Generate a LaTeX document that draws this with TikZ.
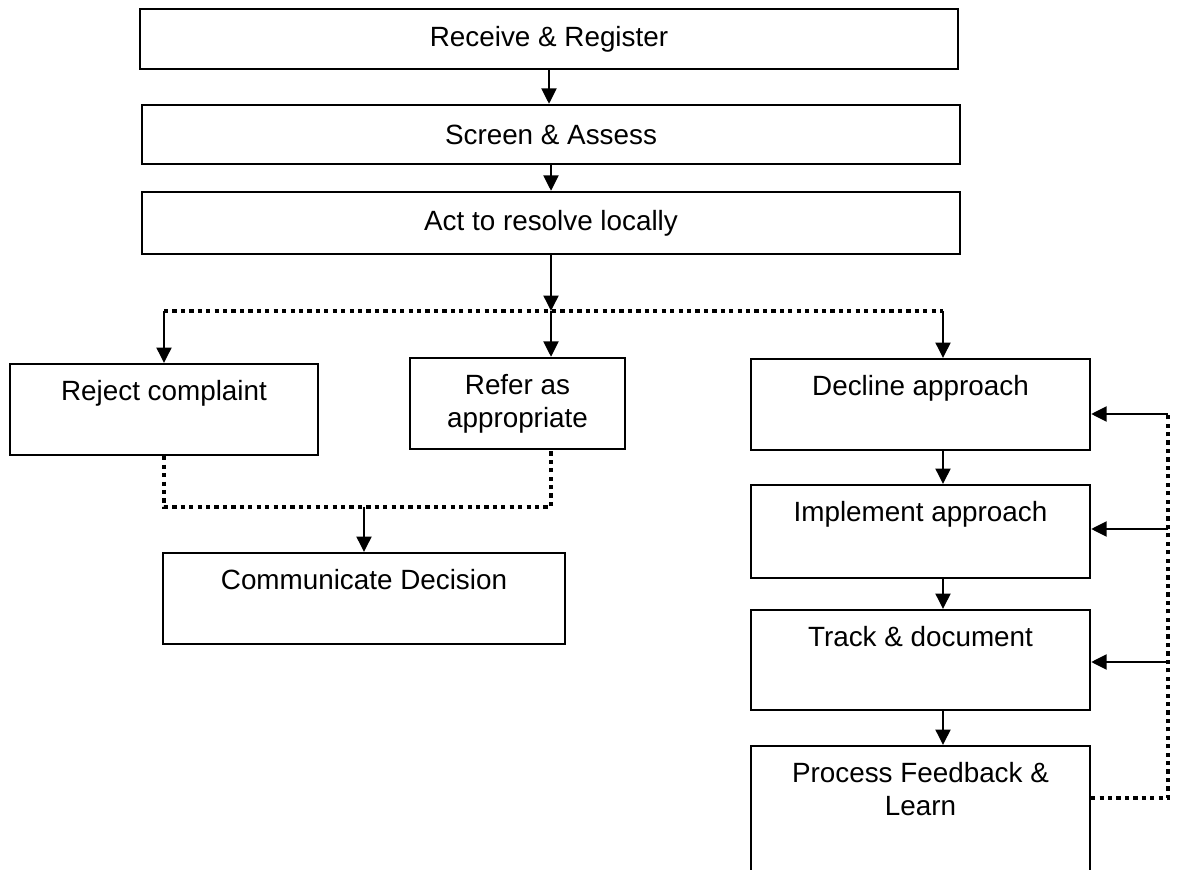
\documentclass[tikz,border=0pt]{standalone}
\usepackage{fontspec}
\setmainfont{Liberation Sans}
\usetikzlibrary{arrows.meta, positioning, calc}
\tikzset{
  every picture/.style={line width=1.6pt},
  box/.style={draw, rectangle, align=center, inner xsep=0pt, inner ysep=0pt, font=\fontsize{19.8}{23.5}\selectfont},
  topbox/.style={box, anchor=north, text height=0.9cm, text depth=#1},
  arrow/.style={-{Triangle[length=11pt, width=10.5pt]}, line width=1.9pt},
  dotline/.style={line width=2.4pt, dash pattern=on 3pt off 3pt},
}

\begin{document}
\begin{tikzpicture}
  \clip (0,0) rectangle (29.525,21.725);
  % ---------- main line ----------
  \node[box, minimum width=20.45cm, minimum height=1.5cm] (recv) at (13.725, 20.75) {Receive \& Register};
  \node[box, minimum width=20.45cm, minimum height=1.475cm] (screen) at (13.775, 18.3625) {Screen \& Assess};
  \node[box, minimum width=20.45cm, minimum height=1.55cm] (act) at (13.775, 16.15) {Act to resolve locally};
  \foreach \a/\b in {recv/screen, screen/act}
    \draw[arrow] (\a.south) -- (\a.south |- \b.north);
  % ---------- three outcomes ----------
  \node[topbox=1.375cm, minimum width=7.7cm] (reject) at (4.1, 12.65) {Reject complaint};
  \node[box, minimum width=5.375cm, minimum height=2.275cm] (refer) at (12.9375, 11.6375) {Refer as\\appropriate};
  \node[topbox=1.375cm, minimum width=8.475cm] (decline) at (23.0125, 12.775) {Decline approach};
  \coordinate (split) at (act.south |- 0,13.95);
  \coordinate (jl) at (4.1, 13.95);
  \coordinate (jr) at (23.575, 13.95);
  \draw[dotline] (jl) -- (jr);
  \draw[arrow] (act.south) -- (split);
  \draw[arrow] (split) -- (split |- refer.north);
  \draw[arrow] (jl) -- (jl |- reject.north);
  \draw[arrow] (jr) -- (jr |- decline.north);
  % ---------- decision ----------
  \node[topbox=1.375cm, minimum width=10.05cm] (communicate) at (9.1, 7.925) {Communicate Decision};
  \coordinate (jb) at (9.1, 9.05);
  \coordinate (jbr) at (13.775, 9.05);
  \draw[dotline] (reject.south) |- (jbr) -- (jbr |- refer.south);
  \draw[arrow] (jb) -- (communicate.north);
  % ---------- approach chain ----------
  \node[topbox=1.425cm, minimum width=8.475cm] (implement) at (23.0125, 9.625) {Implement approach};
  \node[topbox=1.6cm, minimum width=8.475cm] (track) at (23.0125, 6.5) {Track \& document};
  \node[topbox=2.2cm, text height=1.726cm, minimum width=8.475cm] (process) at (23.0125, 3.1) {Process Feedback \&\\Learn};
  \foreach \a/\b in {decline/implement, implement/track, track/process}
    \draw[arrow] ([xshift=0.5625cm]\a.south) -- ([xshift=0.5625cm]\b.north);
  % ---------- feedback ----------
  \coordinate (fb1) at (29.2, 11.375);
  \coordinate (fb2) at (29.2, 8.5);
  \coordinate (fb3) at (29.2, 5.175);
  \draw[dotline] ([yshift=-1.325cm]process.north east) -| (fb1);
  \draw[arrow] (fb1) -- (fb1 -| decline.east);
  \draw[arrow] (fb2) -- (fb2 -| implement.east);
  \draw[arrow] (fb3) -- (fb3 -| track.east);
\end{tikzpicture}
\end{document}
